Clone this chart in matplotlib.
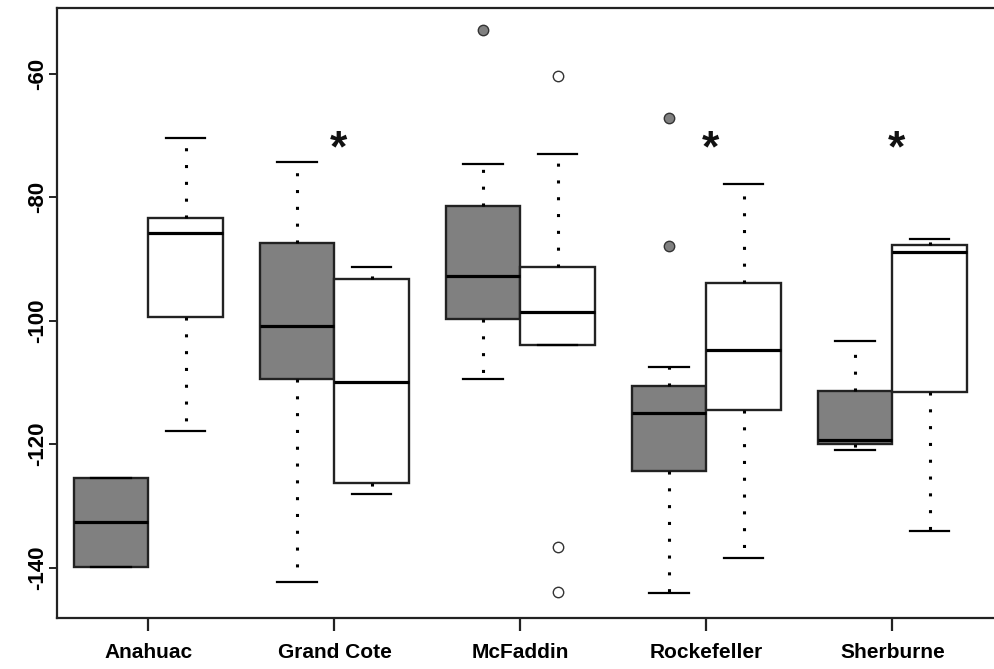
import matplotlib
matplotlib.use("Agg")
import matplotlib.pyplot as plt

sites = ["Anahuac", "Grand Cote", "McFaddin", "Rockefeller", "Sherburne"]

# grey (filled) boxes
grey_whislo = [-139.85, -142.3, -109.4, -144.1, -120.9]
grey_q1     = [-139.85, -109.4, -99.7, -124.3, -120.0]
grey_med    = [-132.6, -100.8, -92.7, -115.0, -119.3]
grey_q3     = [-125.4, -87.4, -81.4, -110.6, -111.3]
grey_whishi = [-125.4, -74.3, -74.6, -107.5, -103.2]
grey_fliers = [[], [], [-52.9], [-67.1, -87.8], []]

# white (open) boxes
white_whislo = [-117.9, -128.0, -103.9, -138.4, -134.1]
white_q1     = [-99.4, -126.3, -103.9, -114.4, -111.5]
white_med    = [-85.8, -109.9, -98.5, -104.8, -88.8]
white_q3     = [-83.4, -93.2, -91.2, -93.9, -87.7]
white_whishi = [-70.3, -91.2, -73.0, -77.9, -86.7]
white_fliers = [[], [], [-60.4, -136.6, -143.9], [], []]

star_sites = ["Grand Cote", "Rockefeller", "Sherburne"]
star_value = -70.7

yticks = [-60, -80, -100, -120, -140]

plt.rcParams['font.family'] = ['Liberation Sans', 'DejaVu Sans']

fig = plt.figure(figsize=(9.94, 6.69), dpi=100)
ax = fig.add_axes([57.3 / 994, 1 - 618 / 669, 1 - 57.3 / 994, (618 - 8) / 669])


def stats(wlo, q1, med, q3, whi, fl, label):
    out = []
    for i in range(len(wlo)):
        out.append(dict(whislo=wlo[i], q1=q1[i], med=med[i], q3=q3[i],
                        whishi=whi[i], fliers=fl[i], label=label))
    return out


def draw(st, offset, face):
    n = len(st)
    pos = [i + offset for i in range(n)]
    ax.bxp(st, positions=pos, widths=0.4, capwidths=0.213,
           patch_artist=True, showfliers=True,
           boxprops=dict(facecolor=face, edgecolor="#222222", linewidth=1.7),
           medianprops=dict(color="black", linewidth=2.3),
           whiskerprops=dict(color="black", linewidth=2.2,
                             linestyle=(0, (1, 4.5)), dash_capstyle="butt"),
           capprops=dict(color="black", linewidth=1.6),
           flierprops=dict(marker="o", markersize=7.5, markerfacecolor=face,
                           markeredgecolor="#333333", markeredgewidth=1.0,
                           linestyle="none"),
           manage_ticks=False)


draw(stats(grey_whislo, grey_q1, grey_med, grey_q3, grey_whishi, grey_fliers, "g"), -0.2, "#808080")
draw(stats(white_whislo, white_q1, white_med, white_q3, white_whishi, white_fliers, "w"), 0.2, "white")

for s in star_sites:
    ax.annotate("*", xy=(sites.index(s), star_value), xytext=(3, -7),
                textcoords="offset points", ha="center", va="center",
                fontsize=32, fontweight="bold", color="#111111")

ax.set_xlim(-0.49, 4.546)
ax.set_ylim(-148.17, -49.3)

ax.set_xticks(range(len(sites)))
ax.set_xticklabels(sites, fontsize=15, fontweight="bold")
ax.set_yticks(yticks)
ax.set_yticklabels([str(v) for v in yticks], rotation=90, va="center",
                   fontsize=16, fontweight="bold")

ax.tick_params(axis="x", length=9, width=1.6, pad=9, color="#222222")
ax.tick_params(axis="y", length=5.5, width=1.4, pad=1, color="#222222")

for side in ["left", "bottom", "top"]:
    ax.spines[side].set_linewidth(1.6)
    ax.spines[side].set_color("#222222")
ax.spines["right"].set_visible(False)

fig.savefig("out.png", dpi=100)
